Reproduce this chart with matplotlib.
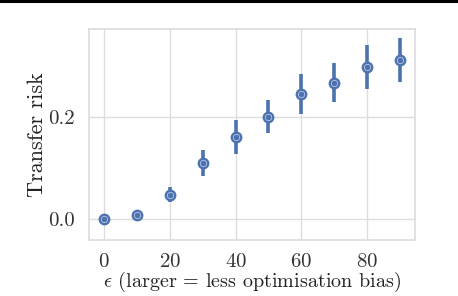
import numpy as np
import matplotlib
matplotlib.use("Agg")
import matplotlib.pyplot as plt
import seaborn as sns
from matplotlib.lines import Line2D

eps = [0, 10, 20, 30, 40, 50, 60, 70, 80, 90]
risk = [0.0, 0.009, 0.048, 0.110, 0.161, 0.201, 0.245, 0.267, 0.298, 0.312]
err = [0.001, 0.002, 0.015, 0.025, 0.033, 0.032, 0.039, 0.038, 0.043, 0.043]

sns.set_theme(style="whitegrid")
plt.rcParams['font.family'] = ['cmr10']
plt.rcParams['mathtext.fontset'] = 'cm'
plt.rcParams['axes.formatter.use_mathtext'] = True

blue = "#4C72B0"

fig = plt.figure(figsize=(4.58, 2.96), dpi=100)
ax = fig.add_axes([0.1943, 0.189, 0.906 - 0.1943, 0.901 - 0.189])

ax.errorbar(eps, risk, yerr=err, fmt="none", ecolor=blue, elinewidth=2.6, capsize=0)
ax.plot(eps, risk, "o", color=blue, markersize=7.5, markeredgecolor=blue, linestyle="none")
ax.plot(eps, risk, "o", color=blue, markersize=4.6, markeredgecolor="#c8d3e8",
        markeredgewidth=0.5, linestyle="none")

ax.set_xlim(-4.6, 94.6)
ax.set_ylim(-0.0405, 0.3715)
ax.set_xticks([0, 20, 40, 60, 80])
ax.set_yticks([0.0, 0.2])
ax.set_yticklabels(["0.0", "0.2"])
ax.tick_params(labelsize=15, colors="#333333")
ax.tick_params(axis="x", pad=3)
ax.tick_params(axis="y", pad=4)
for s in ax.spines.values():
    s.set_color("#dddddd")
ax.grid(color="#dddddd", linewidth=1)

ax.set_xlabel(r"$\epsilon$ (larger = less optimisation bias)", fontsize=14.5, color="#222222", labelpad=-0.5)
ax.set_ylabel("Transfer risk", fontsize=16, color="#222222", labelpad=1)

# dark band along the top edge of the picture
fig.add_artist(Line2D([0, 1], [0.995, 0.995], transform=fig.transFigure, color="black", linewidth=2.2))

fig.savefig("out.png", dpi=100)
